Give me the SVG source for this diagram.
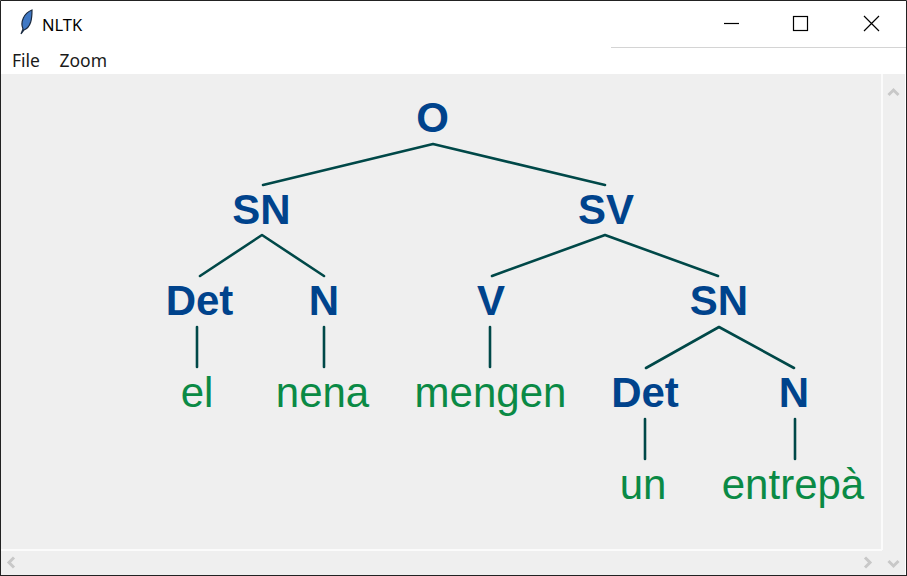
<svg xmlns="http://www.w3.org/2000/svg" width="907" height="576" viewBox="0 0 907 576">
<style>
.n{font-family:"Liberation Sans",Arial,sans-serif;font-size:42px;font-weight:bold;fill:#00438c;text-anchor:middle}
.l{font-family:"Liberation Sans",Arial,sans-serif;font-size:42px;fill:#0a8a45;text-anchor:middle}
.c{stroke:#004848;stroke-width:2.6;fill:none;stroke-linecap:round;stroke-linejoin:round}
.ui{font-family:"Noto Sans","Open Sans",sans-serif;font-size:17.500px;fill:#1a1a1a}
.w{stroke:#000;stroke-width:1.2;fill:none}
.a{stroke:#c8c8c8;stroke-width:3;fill:none}
</style>
<g id="window">
<rect x="0" y="0" width="907" height="576" fill="#fff"/>
<rect x="1" y="74" width="904" height="501" fill="#efefef"/>
<rect x="881" y="74" width="2" height="476" fill="#fbfbfb"/>
<rect x="1" y="549" width="881" height="2" fill="#fbfbfb"/>
<rect x="611" y="47" width="295" height="1" fill="#d4d4d4"/>
<path d="M0.500 576V0.500H906.500V576" fill="none" stroke="#222"/>
<path d="M0 575.500H907" stroke="#222"/>
</g>
<g id="titlebar">
<path d="M21 34L23 29C20 22 24 13 32 10C32 19 31 27 24 30Z" fill="#3f78c4" stroke="#1a2a40" stroke-width="1.200"/>
<text x="42" y="31" style="font-family:'Noto Sans',sans-serif;font-size:16.500px" fill="#000">NLTK</text>
<path class="w" d="M724 23.500H739"/>
<rect class="w" x="793.500" y="16.500" width="14" height="14"/>
<path class="w" d="M864 16L879 31M879 16L864 31"/>
</g>
<g id="menu">
<text class="ui" x="12" y="67">File</text>
<text class="ui" x="59.500" y="67">Zoom</text>
</g>
<g id="scroll">
<path class="a" d="M888.500 95L893.500 90L898.500 95"/>
<path class="a" d="M888.500 561L893.500 566L898.500 561"/>
<path class="a" d="M14 557.500L9 562.500L14 567.500"/>
<path class="a" d="M865 557.500L870 562.500L865 567.500"/>
</g>
<g id="connectors">
<path class="c" d="M263 185L433 144L605 185"/>
<path class="c" d="M200 276L262 235L324 276"/>
<path class="c" d="M492 276L605 235L718 276"/>
<path class="c" d="M197 327V367"/>
<path class="c" d="M324 327V367"/>
<path class="c" d="M490 327V367"/>
<path class="c" d="M646 368L719 327L794 368"/>
<path class="c" d="M645 419V459"/>
<path class="c" d="M795 419V459"/>
</g>
<g id="n-o"><text class="n" x="432.500" y="132">O</text></g>
<g id="n-sn1"><text class="n" x="261.500" y="224">SN</text></g>
<g id="n-sv"><text class="n" x="606" y="224">SV</text></g>
<g id="n-det1"><text class="n" x="199.500" y="315">Det</text></g>
<g id="n-n1"><text class="n" x="324" y="315">N</text></g>
<g id="n-v"><text class="n" x="491" y="315">V</text></g>
<g id="n-sn2"><text class="n" x="719" y="315">SN</text></g>
<g id="n-det2"><text class="n" x="645" y="407">Det</text></g>
<g id="n-n2"><text class="n" x="794" y="407">N</text></g>
<g id="l-el"><text class="l" x="197" y="407">el</text></g>
<g id="l-nena"><text class="l" x="322.500" y="407">nena</text></g>
<g id="l-mengen"><text class="l" x="490.500" y="407">mengen</text></g>
<g id="l-un"><text class="l" x="643" y="499">un</text></g>
<g id="l-entrepa"><text class="l" x="793" y="499">entrepà</text></g>
</svg>
